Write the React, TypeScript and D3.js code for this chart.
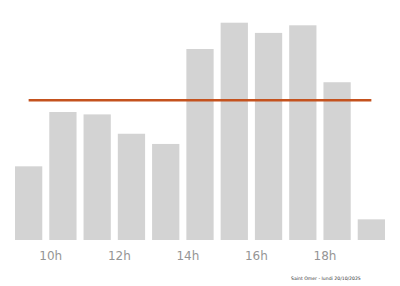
import React from "react";
import * as d3 from "d3";

const hours = [9, 10, 11, 12, 13, 14, 15, 16, 17, 18, 19];
const values = [33.9, 58.9, 57.8, 48.9, 44.2, 87.9, 100, 95.3, 98.8, 72.6, 9.5];
const tickHours = [10, 12, 14, 16, 18];
const tickLabels = ["10h", "12h", "14h", "16h", "18h"];
const footer = "Saint Omer - lundi 20/10/2025";

export default function App() {
  const W = 400, H = 286;
  const x = d3.scaleLinear().domain([9, 20]).range([11.5, 388.5]);
  const y = d3.scaleLinear().domain([0, d3.max(values) as number]).range([240, 22.7]);
  const gap = 3.5;
  const mean = d3.mean(values) as number;
  return (
    <div style={{ position: "fixed", left: 0, top: 0 }}>
      <svg width={W} height={H} style={{ display: "block", background: "#fff" }}>
        {values.map((v, i) => (
          <rect
            key={i}
            x={x(hours[i]) + gap}
            width={x(hours[i] + 1) - x(hours[i]) - 2 * gap}
            y={y(v)}
            height={y(0) - y(v)}
            fill="#d3d3d3"
          />
        ))}
        <line
          x1={x(hours[0] + 0.5)}
          x2={x(hours[hours.length - 1] + 0.5)}
          y1={y(mean)}
          y2={y(mean)}
          stroke="#c4521e"
          strokeWidth={2.5}
        />
        {tickHours.map((h, i) => (
          <text
            key={h}
            x={x(h) + 5}
            y={260}
            textAnchor="middle"
            fontFamily="DejaVu Sans"
            fontSize={12}
            fill="#959595"
          >
            {tickLabels[i]}
          </text>
        ))}
        <text x={291} y={279.5} fontFamily="DejaVu Sans" fontSize={4.6} fill="#333">
          {footer}
        </text>
      </svg>
    </div>
  );
}
